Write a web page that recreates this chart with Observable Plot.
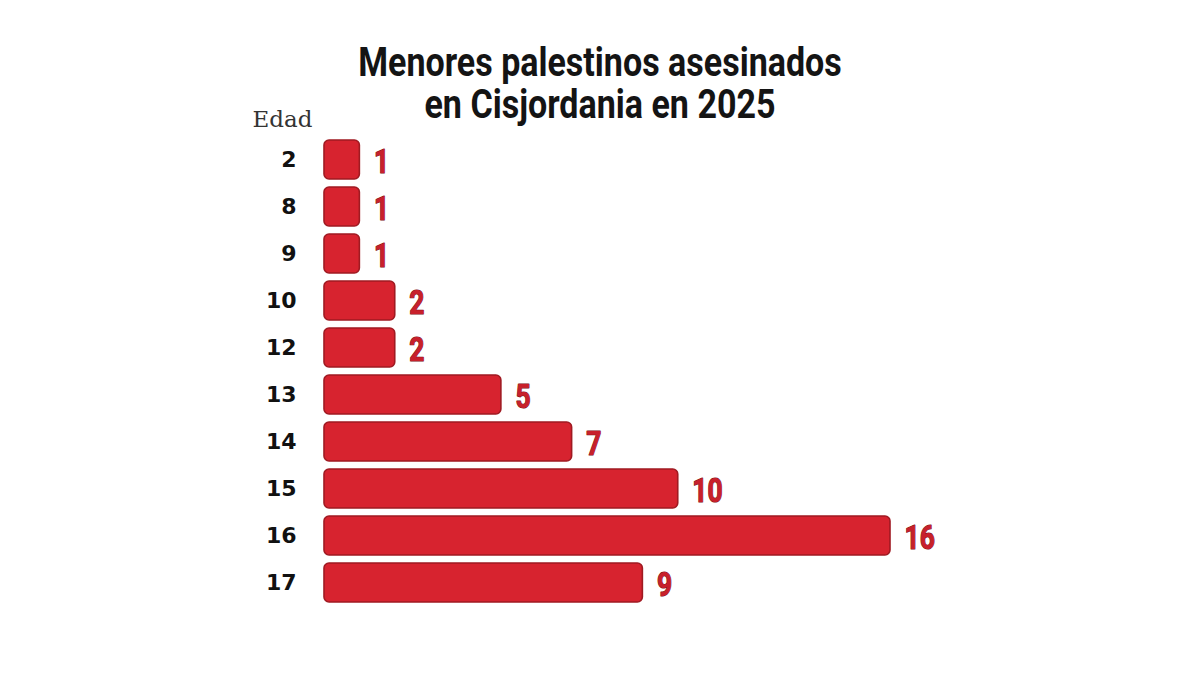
<!DOCTYPE html>
<html lang="es">
<head>
<meta charset="utf-8">
<script src="https://cdn.jsdelivr.net/npm/d3@7"></script>
<script src="https://cdn.jsdelivr.net/npm/@observablehq/plot@0.6"></script>
<style>
  html, body { margin: 0; padding: 0; background: #ffffff; }
  #wrap { position: relative; width: 1200px; height: 675px; overflow: hidden; }
  #title { position: relative; height: 110px; }
  #title div {
    position: absolute;
    left: 0;
    width: 1200px;
    text-align: center;
    font-family: "Roboto", "Liberation Sans", sans-serif;
    font-weight: 700;
    font-size: 41px;
    line-height: 42px;
    color: #141414;
    transform: scaleX(0.83);
    transform-origin: 600px 50%;
  }
  #t1 { top: 41px; }
  #t2 { top: 83px; }
  #chart svg { display: block; }
</style>
</head>
<body>
<div id="wrap">
  <div id="title">
    <div id="t1">Menores palestinos asesinados</div>
    <div id="t2">en Cisjordania en 2025</div>
  </div>
  <div id="chart"></div>
</div>
<script>
// Ages of the children killed (category axis) and count per age
const ages = ["2", "8", "9", "10", "12", "13", "14", "15", "16", "17"];
const counts = [1, 1, 1, 2, 2, 5, 7, 10, 16, 9];
const axisTitle = "Edad";

const rows = ages.map((age, i) => ({age, count: counts[i]}));

const chart = Plot.plot({
  width: 1200,
  height: 565,
  marginLeft: 324,
  marginRight: 310,
  marginTop: 20,
  marginBottom: 64,
  style: {background: "transparent", overflow: "visible"},
  x: {domain: [0, 16], axis: null},
  y: {domain: ages, padding: 0.18, label: null},
  marks: [
    Plot.axisY({
      tickSize: 0,
      tickPadding: 28,
      fontSize: 22,
      fontWeight: 700,
      fontFamily: "'DejaVu Sans', 'Noto Sans', sans-serif",
      fill: "#111111",
      label: null
    }),
    Plot.barX(rows, {
      y: "age",
      x: "count",
      fill: "#d7232f",
      stroke: "#a01a22",
      strokeWidth: 1.6,
      rx: 5,
      style: "filter: drop-shadow(0 0 2px rgba(225,60,70,0.45));"
    }),
    // count labels at the end of each bar
    Plot.text(rows, {
      y: "age",
      x: "count",
      text: d => String(d.count),
      textAnchor: "start",
      dx: 14,
      dy: 2,
      fontSize: 33,
      fontWeight: 700,
      fontFamily: "'Roboto', 'Liberation Sans', sans-serif",
      fill: "#c8202b",
      stroke: "#7d0f16",
      strokeWidth: 1.2,
      paintOrder: "stroke"
    }),
    Plot.text([axisTitle], {
      frameAnchor: "top-left",
      text: d => d,
      textAnchor: "end",
      lineAnchor: "middle",
      dx: -12,
      dy: -11,
      fontSize: 23,
      fontFamily: "'DejaVu Serif', 'Liberation Serif', serif",
      fill: "#333333"
    })
  ]
});

// narrow the count labels into a condensed look (scaled about their left anchor)
const textGroups = chart.querySelectorAll('g[aria-label="text"]');
if (textGroups.length) {
  textGroups[0].querySelectorAll("text").forEach(t => {
    const tr = t.getAttribute("transform");
    if (tr) {
      t.setAttribute("transform", tr + " scale(0.8,1)");
    } else {
      const x = +t.getAttribute("x") || 0, y = +t.getAttribute("y") || 0;
      t.removeAttribute("x");
      t.removeAttribute("y");
      t.setAttribute("transform", `translate(${x},${y}) scale(0.8,1)`);
    }
  });
}

document.getElementById("chart").appendChild(chart);
</script>
</body>
</html>
